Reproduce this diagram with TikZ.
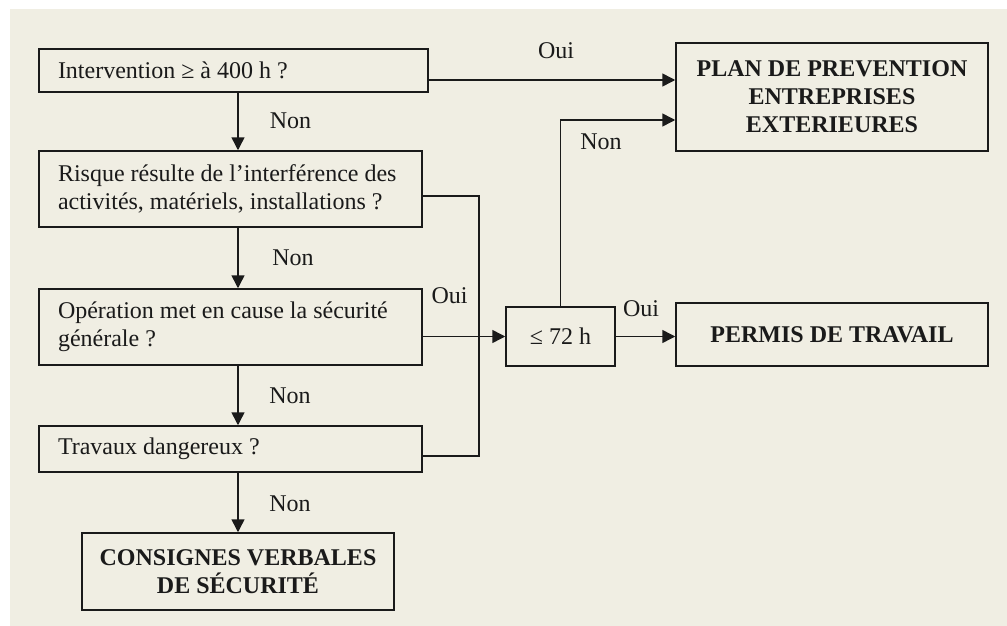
\documentclass[tikz,border=0pt]{standalone}
\usepackage{fontspec}
\setmainfont{Liberation Serif}
\usetikzlibrary{positioning,
                arrows.meta}                % arrow tips
\definecolor{paper}{RGB}{240,238,227}
\definecolor{ink}{RGB}{26,26,26}

\begin{document}
\begin{tikzpicture}[x=1pt,y=-1pt,
    every node/.style={font=\fontsize{24}{28}\selectfont, text=ink},
    qbox/.style={draw=ink, line width=1.5pt, inner xsep=19pt, inner ysep=0pt, align=flush left},
    endbox/.style={draw=ink, line width=1.5pt, inner sep=0pt, align=center,
                   font=\fontsize{24}{28}\selectfont\bfseries},
    wire/.style={draw=ink, line width=1.5pt},
    arr/.style={wire, -{Triangle[length=13pt,width=13pt]}},
    lbl/.style={inner sep=0pt}]
      \fill[white] (0,0) rectangle (1007,626);
      \fill[paper] (10,9) rectangle (1007,626);
      \useasboundingbox (0,0) rectangle (1007,626);

      % questions, left column
      \node[qbox, text width=351pt, minimum height=43pt] (interv) at (233.5,70.5)
        {Intervention ≥ à 400 h ?};
      \node[qbox, text width=345pt, minimum height=76pt] (risque) at (230.5,189)
        {Risque résulte de l’interférence des\\activités, matériels, installations ?};
      \node[qbox, text width=345pt, minimum height=76pt] (secu) at (230.5,327)
        {Opération met en cause la sécurité\\générale ?};
      \node[qbox, text width=345pt, minimum height=46pt] (travaux) at (230.5,449)
        {Travaux dangereux ?};
      \node[endbox, minimum width=312pt, minimum height=77pt] (consignes) at (238,571.5)
        {CONSIGNES VERBALES\\DE SÉCURITÉ};

      % outcomes, right side
      \node[endbox, minimum width=109pt, minimum height=59pt,
            font=\fontsize{24}{28}\selectfont] (delai) at (560.5,336.5) {≤ 72 h};
      \node[endbox, minimum width=312pt, minimum height=108pt] (plan) at (832,97)
        {PLAN DE PREVENTION\\ENTREPRISES\\EXTERIEURES};
      \node[endbox, minimum width=312pt, minimum height=63pt] (permis) at (832,334.5)
        {PERMIS DE TRAVAIL};

      \coordinate (spine) at (238,0);
      \coordinate (bus) at (479,0);
      \coordinate (rq) at ([yshift=-7pt]risque.east);
      \coordinate (tv) at ([yshift=-7pt]travaux.east);

      \draw[arr] (interv.south -| spine) -- (risque.north -| spine);
      \draw[arr] (risque.south -| spine) -- (secu.north -| spine);
      \draw[arr] (secu.south -| spine) -- (travaux.north -| spine);
      \draw[arr] (travaux.south -| spine) -- (consignes.north -| spine);

      \draw[arr] ([yshift=-9.5pt]interv.east) -- ([yshift=17pt]plan.west);
      \draw[wire] (rq) -| (bus |- tv) -- (tv);
      \draw[arr] (secu.east |- delai.west) -- (delai.west);
      \draw[arr] (delai.north) |- ([yshift=-23pt]plan.west);
      \draw[arr] (delai.east) -- (delai.east -| permis.west);

      \node[lbl] (oui1) at (556,51) {Oui};
      \node[lbl] (non1) at (290.5,121) {Non};
      \node[lbl] (non2) at (293,258) {Non};
      \node[lbl] (non3) at (290,396) {Non};
      \node[lbl] (non4) at (290,503.5) {Non};
      \node[lbl] (oui2) at (449.5,296) {Oui};
      \node[lbl] (non5) at (601,141.5) {Non};
      \node[lbl] (oui3) at (641,308.5) {Oui};
\end{tikzpicture}
\end{document}
